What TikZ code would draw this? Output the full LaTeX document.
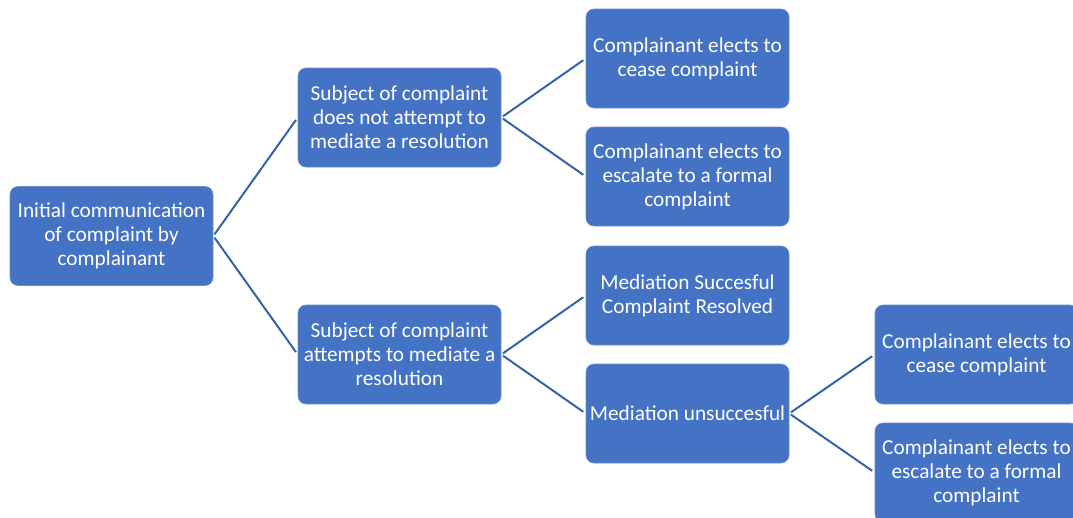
\documentclass[tikz,border=0pt]{standalone}
\usepackage{fontspec}
\setmainfont{Carlito}
\definecolor{boxblue}{HTML}{4472C4}
\definecolor{boxedge}{HTML}{6A8FD0}
\definecolor{linkblue}{HTML}{3761AA}
\begin{document}
\begin{tikzpicture}[x=1pt,y=-1pt,
  box/.style={rectangle, rounded corners=8pt, fill=boxblue, draw=boxedge, line width=0.6pt,
    minimum width=203pt, minimum height=99pt, inner sep=1pt, text=white, align=center,
    font=\fontsize{21.3}{24}\selectfont},
  link/.style={draw=linkblue, line width=2pt, shorten >=3pt, shorten <=2pt}]
\useasboundingbox (0,0) rectangle (1073,517);
\clip (0,0) rectangle (1073,517);
\node[box] (root) at (111.5,236) {Initial communication\\of complaint by\\complainant};
\node[box] (a) at (399.5,117.5) {Subject of complaint\\does not attempt to\\mediate a resolution};
\node[box] (b) at (399.5,354.5) {Subject of complaint\\attempts to mediate a\\resolution};
\node[box] (a1) at (687.5,58.5) {Complainant elects to\\cease complaint};
\node[box] (a2) at (687.5,176.5) {Complainant elects to\\escalate to a formal\\complaint};
\node[box] (b1) at (687.5,295.5) {Mediation Succesful\\Complaint Resolved};
\node[box] (b2) at (687.5,413.5) {Mediation unsuccesful};
\node[box] (c1) at (976.5,354.5) {Complainant elects to\\cease complaint};
\node[box] (c2) at (976.5,472.5) {Complainant elects to\\escalate to a formal\\complaint};
\draw[link] (root.east) -- (a.west);
\draw[link] (root.east) -- (b.west);
\draw[link] (a.east) -- (a1.west);
\draw[link] (a.east) -- (a2.west);
\draw[link] (b.east) -- (b1.west);
\draw[link] (b.east) -- (b2.west);
\draw[link] (b2.east) -- (c1.west);
\draw[link] (b2.east) -- (c2.west);
\end{tikzpicture}
\end{document}
